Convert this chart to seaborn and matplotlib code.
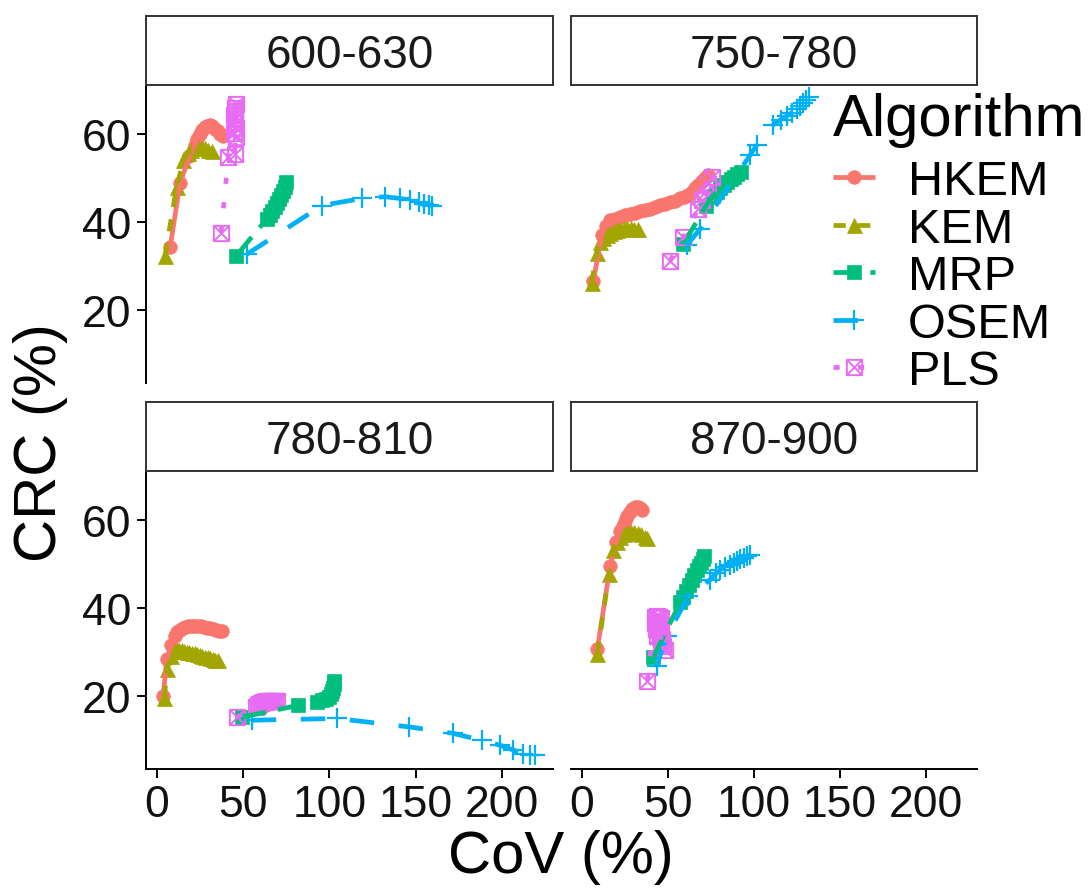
import matplotlib
matplotlib.use("Agg")
import matplotlib.pyplot as plt
from matplotlib.path import Path
from matplotlib.lines import Line2D
import pandas as pd
import seaborn as sns

sns.set_theme(style="ticks")
plt.rcParams["font.family"] = ["Liberation Sans", "DejaVu Sans"]
plt.rcParams["text.color"] = "black"

# ---- categories and axis labels -------------------------------------------
BANDS = ["600-630", "750-780", "780-810", "870-900"]
ALGORITHMS = ["HKEM", "KEM", "MRP", "OSEM", "PLS"]
X_TICKS = [0, 50, 100, 150, 200]
Y_TICKS = [20, 40, 60]

# ---- 600-630 ---------------------------------------------------------------
HKEM_600_COV = [7.8, 13.5, 19.0, 22.2, 23.6, 25.0, 26.4, 27.8, 29.3, 30.8, 32.3, 33.8, 35.3, 36.8, 38.3]
HKEM_600_CRC = [34.2, 48.8, 54.9, 57.5, 58.9, 60.0, 60.9, 61.5, 61.9, 62.0, 61.7, 61.2, 60.6, 60.0, 59.5]
KEM_600_COV = [4.8, 11.5, 15.5, 18.0, 20.0, 22.0, 24.0, 26.0, 28.0, 30.0, 31.8]
KEM_600_CRC = [32.3, 47.8, 54.0, 55.6, 56.4, 56.9, 57.0, 56.9, 56.7, 56.4, 56.0]
MRP_600_COV = [46.0, 63.8, 65.5, 67.0, 68.4, 69.7, 70.9, 72.0, 73.1, 74.2, 75.2]
MRP_600_CRC = [32.2, 40.7, 41.6, 42.5, 43.4, 44.3, 45.2, 46.1, 47.0, 48.0, 49.0]
OSEM_600_COV = [52.2, 95.7, 118.8, 132.3, 141.0, 146.8, 151.7, 154.6, 157.5, 159.4]
OSEM_600_CRC = [32.6, 43.7, 45.3, 45.7, 45.3, 44.9, 44.5, 44.1, 43.9, 43.7]
PLS_600_COV = [37.3, 41.5, 45.4, 45.8, 45.0, 46.0, 45.2, 45.6, 44.8, 45.5, 45.1, 45.7]
PLS_600_CRC = [37.5, 54.8, 55.5, 59.2, 60.3, 61.4, 62.5, 63.4, 64.3, 65.2, 66.0, 66.7]

# ---- 750-780 ---------------------------------------------------------------
HKEM_750_COV = [6.8, 11.6, 14.0, 16.5, 19.5, 22.3, 25.2, 28.1, 31.0, 33.9, 36.8, 39.7, 42.6, 45.5,
                48.4, 51.3, 54.2, 57.1, 59.6, 62.0, 64.0, 65.8, 67.8, 69.7, 71.7, 73.6]
HKEM_750_CRC = [26.5, 36.9, 39.0, 40.3, 40.7, 41.1, 41.5, 41.8, 42.1, 42.4, 42.7, 43.0, 43.4, 43.8,
                44.1, 44.4, 44.8, 45.3, 45.7, 46.1, 46.8, 47.6, 48.4, 49.2, 49.9, 50.6]
KEM_750_COV = [5.8, 8.7, 10.6, 12.5, 14.5, 16.5, 18.5, 20.5, 22.5, 24.5, 26.5, 28.5, 30.5, 32.5]
KEM_750_CRC = [26.1, 33.0, 35.3, 36.3, 37.0, 37.5, 37.9, 38.2, 38.4, 38.5, 38.5, 38.5, 38.4, 38.3]
MRP_750_COV = [59.1, 72.0, 76.0, 78.5, 80.5, 82.5, 84.5, 86.5, 88.5, 90.5, 92.5]
MRP_750_CRC = [34.9, 43.5, 45.8, 46.8, 47.6, 48.4, 49.1, 49.7, 50.3, 50.9, 51.4]
OSEM_750_COV = [61.0, 68.8, 97.9, 101.7, 111.4, 115.5, 119.2, 122.0, 125.0, 127.0, 128.8, 130.5, 131.8]
OSEM_750_CRC = [34.6, 38.4, 55.2, 57.5, 62.1, 63.2, 64.1, 64.8, 65.6, 66.3, 67.1, 67.7, 68.3]
PLS_750_COV = [51.3, 59.0, 67.8, 69.7, 71.7, 73.6, 75.6]
PLS_750_CRC = [31.1, 36.5, 43.0, 45.0, 46.8, 48.6, 50.3]

# ---- 780-810 ---------------------------------------------------------------
HKEM_780_COV = [3.8, 5.8, 8.5, 10.6, 12.0, 13.5, 15.0, 16.5, 18.2, 20.0, 21.8, 23.6, 25.4, 27.2,
                29.0, 30.8, 32.6, 34.4, 36.2, 37.7]
HKEM_780_CRC = [20.0, 28.3, 31.5, 33.6, 34.4, 35.0, 35.4, 35.6, 35.8, 35.9, 35.9, 35.9, 35.8, 35.7,
                35.5, 35.3, 35.1, 34.9, 34.8, 34.7]
KEM_780_COV = [4.5, 5.8, 8.0, 10.0, 11.5, 13.0, 14.5, 16.0, 17.5, 19.0, 20.5, 22.0, 23.5, 25.0,
               26.5, 28.0, 29.5, 31.0, 32.5, 34.0, 35.8]
KEM_780_CRC = [19.5, 26.1, 29.0, 30.2, 30.4, 30.4, 30.3, 30.2, 30.0, 29.9, 29.7, 29.6, 29.5, 29.3,
               29.1, 28.9, 28.7, 28.5, 28.3, 28.2, 28.0]
MRP_780_COV = [49.3, 82.1, 93.0, 95.6, 98.0, 99.8, 101.0, 101.8, 102.3, 102.6, 102.8]
MRP_780_CRC = [15.1, 17.8, 18.5, 18.9, 19.3, 19.8, 20.3, 21.0, 21.8, 22.6, 23.3]
OSEM_780_COV = [55.0, 104.3, 145.9, 171.9, 188.4, 199.0, 206.7, 212.5, 216.4, 219.3]
OSEM_780_CRC = [14.4, 14.8, 12.9, 11.4, 9.8, 8.7, 7.6, 6.8, 6.6, 6.4]
PLS_780_COV = [46.4, 57.5, 58.5, 59.5, 60.5, 61.5, 62.5, 63.5, 64.5, 65.5, 66.5, 67.5, 68.5, 69.5]
PLS_780_CRC = [15.1, 17.4, 17.8, 18.1, 18.3, 18.5, 18.6, 18.7, 18.8, 18.8, 18.8, 18.8, 18.7, 18.7]

# ---- 870-900 ---------------------------------------------------------------
HKEM_870_COV = [9.1, 16.5, 20.0, 22.3, 23.8, 25.2, 26.6, 28.0, 29.5, 31.0, 32.5, 34.0, 35.2]
HKEM_870_CRC = [30.6, 49.4, 55.0, 57.4, 58.6, 59.8, 60.8, 61.7, 62.4, 62.9, 63.0, 62.7, 62.2]
KEM_870_COV = [9.1, 15.8, 18.4, 20.5, 22.5, 24.5, 26.5, 28.5, 30.5, 32.5, 34.5, 36.5, 37.8]
KEM_870_CRC = [29.5, 47.6, 53.2, 55.0, 56.2, 56.9, 57.2, 57.3, 57.2, 57.0, 56.7, 56.2, 55.9]
MRP_870_COV = [41.6, 57.2, 59.0, 60.8, 62.5, 64.0, 65.5, 66.8, 68.0, 69.2, 70.2, 70.9]
MRP_870_CRC = [28.7, 41.2, 42.5, 43.9, 45.1, 46.4, 47.5, 48.5, 49.4, 50.3, 51.1, 51.8]
OSEM_870_COV = [43.6, 49.4, 62.0, 74.6, 78.0, 80.4, 83.5, 86.2, 88.2, 90.1, 92.0, 94.0, 96.0, 97.9]
OSEM_870_CRC = [26.8, 33.6, 42.6, 46.4, 47.8, 48.7, 49.3, 49.8, 50.2, 50.6, 51.0, 51.3, 51.7, 52.1]
PLS_870_COV = [38.1, 42.3, 43.5, 44.8, 46.0, 42.8, 44.0, 45.3, 43.2, 44.5, 45.8, 44.0, 45.2, 46.4,
               46.0, 47.2, 48.4]
PLS_870_CRC = [23.4, 37.9, 38.1, 37.9, 37.6, 36.6, 36.4, 36.2, 35.2, 35.0, 34.8, 33.6, 33.3, 33.0,
               31.8, 31.2, 30.3]

SERIES = {
    ("600-630", "HKEM"): (HKEM_600_COV, HKEM_600_CRC),
    ("600-630", "KEM"): (KEM_600_COV, KEM_600_CRC),
    ("600-630", "MRP"): (MRP_600_COV, MRP_600_CRC),
    ("600-630", "OSEM"): (OSEM_600_COV, OSEM_600_CRC),
    ("600-630", "PLS"): (PLS_600_COV, PLS_600_CRC),
    ("750-780", "HKEM"): (HKEM_750_COV, HKEM_750_CRC),
    ("750-780", "KEM"): (KEM_750_COV, KEM_750_CRC),
    ("750-780", "MRP"): (MRP_750_COV, MRP_750_CRC),
    ("750-780", "OSEM"): (OSEM_750_COV, OSEM_750_CRC),
    ("750-780", "PLS"): (PLS_750_COV, PLS_750_CRC),
    ("780-810", "HKEM"): (HKEM_780_COV, HKEM_780_CRC),
    ("780-810", "KEM"): (KEM_780_COV, KEM_780_CRC),
    ("780-810", "MRP"): (MRP_780_COV, MRP_780_CRC),
    ("780-810", "OSEM"): (OSEM_780_COV, OSEM_780_CRC),
    ("780-810", "PLS"): (PLS_780_COV, PLS_780_CRC),
    ("870-900", "HKEM"): (HKEM_870_COV, HKEM_870_CRC),
    ("870-900", "KEM"): (KEM_870_COV, KEM_870_CRC),
    ("870-900", "MRP"): (MRP_870_COV, MRP_870_CRC),
    ("870-900", "OSEM"): (OSEM_870_COV, OSEM_870_CRC),
    ("870-900", "PLS"): (PLS_870_COV, PLS_870_CRC),
}

rows = []
for (band, algo), (cov, crc) in SERIES.items():
    for x, y in zip(cov, crc):
        rows.append({"Band": band, "Algorithm": algo, "CoV": x, "CRC": y})
df = pd.DataFrame(rows)

# ---- styling ---------------------------------------------------------------
PALETTE = dict(zip(ALGORITHMS, ["#F8766D", "#A3A500", "#00BF7D", "#00B0F6", "#E76BF3"]))

# square with a cross through it
BOXED_X = Path(
    [(-1, -1), (1, -1), (1, 1), (-1, 1), (-1, -1), (-1, -1), (1, 1), (-1, 1), (1, -1)],
    [Path.MOVETO, Path.LINETO, Path.LINETO, Path.LINETO, Path.CLOSEPOLY,
     Path.MOVETO, Path.LINETO, Path.MOVETO, Path.LINETO],
)

LW = 3.4
STYLE = {
    "HKEM": dict(marker="o", ms=9.8, mew=0.5, mfc=None, ls="-"),
    "KEM": dict(marker="^", ms=10.8, mew=0.5, mfc=None, ls=(0, (2.6, 2.6))),
    "MRP": dict(marker="s", ms=10.2, mew=0.5, mfc=None, ls=(0, (5.2, 2.6))),
    "OSEM": dict(marker="+", ms=14.5, mew=1.6, mfc=None, ls=(0, (5.2, 5.2))),
    "PLS": dict(marker=BOXED_X, ms=11.0, mew=1.4, mfc="none", ls=(0, (1.3, 3.9))),
}

W, H = 1092, 895
fig = plt.figure(figsize=(W / 100, H / 100), dpi=100)


def fig_box(left, top, right, bottom):
    return [left / W, 1 - bottom / H, (right - left) / W, (bottom - top) / H]


PANELS = {
    "600-630": (146, 87, 553, 384, True, False),
    "750-780": (571, 87, 977, 384, False, False),
    "780-810": (146, 473, 553, 770, True, True),
    "870-900": (571, 473, 977, 770, False, True),
}
STRIP_H = 69
TEXT_COLOR = "#111111"

for band in BANDS:
    left, top, right, bottom, show_y, show_x = PANELS[band]
    ax = fig.add_axes(fig_box(left, top, right, bottom))
    sub = df[df["Band"] == band]

    # points first, then the connecting lines on top
    for algo in ALGORITHMS:
        st = STYLE[algo]
        color = PALETTE[algo]
        part = sub[sub["Algorithm"] == algo]
        point_kws = dict(marker=st["marker"], markersize=st["ms"], markeredgewidth=st["mew"],
                         markeredgecolor=color, linestyle="", zorder=2)
        if st["mfc"] is not None:
            point_kws["markerfacecolor"] = st["mfc"]
        sns.lineplot(data=part, x="CoV", y="CRC", color=color, estimator=None, sort=True,
                     legend=False, ax=ax, **point_kws)
    for algo in ALGORITHMS:
        st = STYLE[algo]
        part = sub[sub["Algorithm"] == algo]
        sns.lineplot(data=part, x="CoV", y="CRC", color=PALETTE[algo], estimator=None,
                     sort=True, legend=False, ax=ax, linewidth=LW, linestyle=st["ls"],
                     solid_capstyle="butt", dash_capstyle="butt", zorder=3)

    ax.set_xlim(-6.2, 229.6)
    ax.set_ylim(3.3, 70.9)
    ax.set_xticks(X_TICKS)
    ax.set_yticks(Y_TICKS)
    ax.set_xlabel("")
    ax.set_ylabel("")
    ax.set_facecolor("white")
    for side in ("top", "right"):
        ax.spines[side].set_visible(False)
    ax.spines["left"].set_visible(show_y)
    ax.spines["bottom"].set_visible(show_x)
    for side in ("left", "bottom"):
        ax.spines[side].set_linewidth(1.4)
        ax.spines[side].set_color("black")
    ax.tick_params(axis="both", length=6.5, width=1.4, color="black", labelsize=32,
                   labelcolor=TEXT_COLOR, pad=4)
    if not show_y:
        ax.tick_params(axis="y", left=False, labelleft=False)
    if not show_x:
        ax.tick_params(axis="x", bottom=False, labelbottom=False)

    # facet strip
    sax = fig.add_axes(fig_box(left, top - STRIP_H - 1, right, top - 1))
    sax.set_xticks([])
    sax.set_yticks([])
    sax.set_facecolor("white")
    for sp in sax.spines.values():
        sp.set_visible(True)
        sp.set_linewidth(1.4)
        sp.set_color("#333333")
    sax.text(0.5, 0.5, band, ha="center", va="center_baseline", fontsize=33,
             color="#1A1A1A", transform=sax.transAxes)

fig.text(561 / W, 1 - 858 / H, "CoV (%)", ha="center", va="center", fontsize=43,
         color="black")
fig.text(40 / W, 1 - 443 / H, "CRC (%)", ha="center", va="center", rotation=90,
         fontsize=43, color="black")

handles = []
for algo in ALGORITHMS:
    st = STYLE[algo]
    color = PALETTE[algo]
    handles.append(Line2D([], [], color=color, linewidth=LW, linestyle=st["ls"],
                          marker=st["marker"], markersize=st["ms"],
                          markeredgewidth=st["mew"], markeredgecolor=color,
                          markerfacecolor=color if st["mfc"] is None else st["mfc"],
                          solid_capstyle="butt", dash_capstyle="butt"))

leg = fig.legend(handles, ALGORITHMS, title="Algorithm", loc="upper left",
                 bbox_to_anchor=(833 / W, 1 - 93 / H), frameon=False, fontsize=35,
                 title_fontsize=43, handlelength=0.86, handletextpad=0.68,
                 labelspacing=0.05, borderpad=0, borderaxespad=0, numpoints=1,
                 alignment="left", labelcolor="black")
leg.get_title().set_color("black")
leg._legend_box.sep = 9

fig.savefig("out.png", dpi=100, facecolor="white")
